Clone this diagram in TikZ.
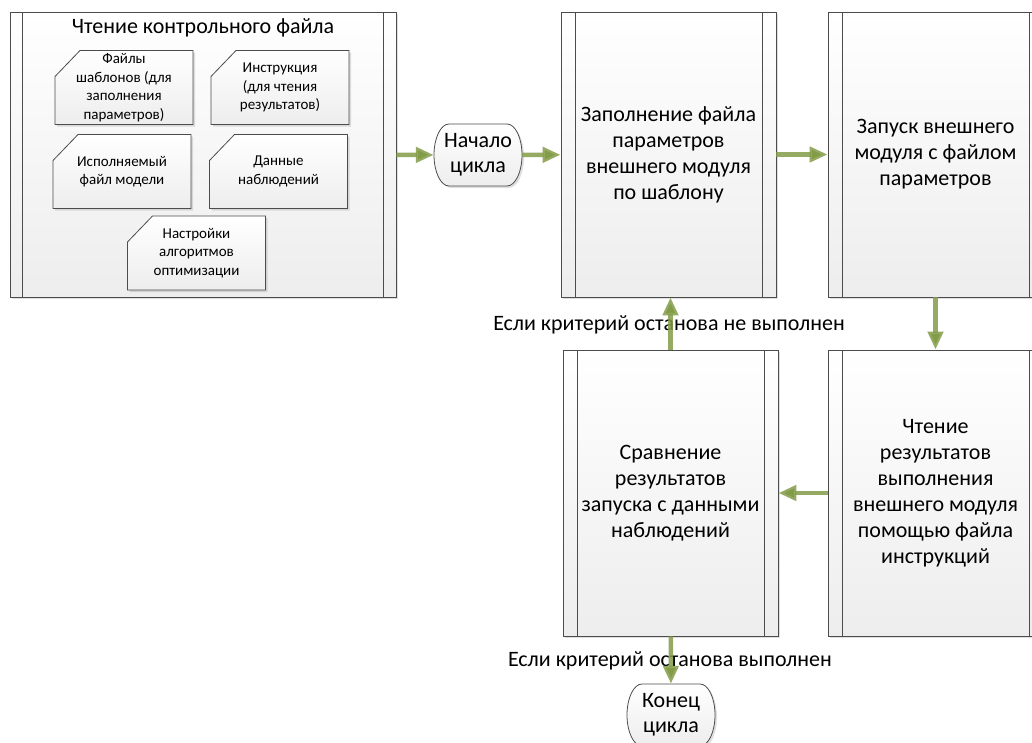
\documentclass[tikz,border=0pt]{standalone}
\usepackage{fontspec}
\setmainfont{Carlito}
\usetikzlibrary{arrows.meta,positioning,shadows}
\definecolor{flowgreen}{RGB}{131,156,72}

\begin{document}
\begin{tikzpicture}[x=1pt,y=-1pt,
  shadowed/.style={drop shadow={shadow xshift=2pt,shadow yshift=-2pt,opacity=.25}},
  sidebars/.style={path picture={\draw[black!70,line width=0.8pt]
      ([xshift=#1]path picture bounding box.north west) -- ([xshift=#1]path picture bounding box.south west)
      ([xshift=-#1]path picture bounding box.north east) -- ([xshift=-#1]path picture bounding box.south east);}},
  shade box/.style={draw=black!70,line width=0.8pt,top color=white,bottom color=black!7,shadowed},
  proc/.style={rectangle,shade box,minimum width=215pt,minimum height=285pt,align=center,
    sidebars=14pt,font=\fontsize{22}{26}\selectfont},
  term/.pic={\path[shade box] (-29,-31) -- (29,-31) arc[start angle=270,end angle=450,x radius=15,y radius=31]
      -- (-29,31) arc[start angle=90,end angle=270,x radius=15,y radius=31] -- cycle;
    \node[minimum width=88pt,minimum height=62pt,align=center,font=\fontsize{22}{25}\selectfont] (-txt) {#1};},
  card/.pic={\path[shade box] (-44,-37) -- (69,-37) -- (69,37) -- (-69,37) -- (-69,-11) -- cycle;
    \node[align=center,font=\fontsize{15}{18.5}\selectfont] (-txt) {#1};},
  flow/.style={draw=flowgreen,draw opacity=.85,line width=4.5pt,-{Triangle[length=18pt,width=15pt]}},
  lbl/.style={font=\fontsize{22}{26}\selectfont}]
  \useasboundingbox (0,0) rectangle (1032,742);

  % control file block
  \node[proc,minimum width=386pt,sidebars=12.5pt] (ctl) at (203,154.5) {};
  \node[font=\fontsize{22}{26}\selectfont] (ctltitle) at (203,28) {Чтение контрольного файла};
  \pic (tpl) at (124,87.5) {card={Файлы\\шаблонов (для\\заполнения\\параметров)}};
  \pic (ins) at (280,87.5) {card={Инструкция\\(для чтения\\результатов)}};
  \pic (exe) at (122,171.5) {card={Исполняемый\\файл модели}};
  \pic (obs) at (278.5,171.5) {card={Данные\\наблюдений}};
  \pic (opt) at (196.5,253) {card={Настройки\\алгоритмов\\оптимизации}};

  % loop
  \pic (start) at (478,155) {term={Начало\\цикла}};
  \node[proc] (fill) at (668.5,154.5) {Заполнение файла\\параметров\\внешнего модуля\\по шаблону};
  \node[proc] (run) at (935.5,154.5) {Запуск внешнего\\модуля с файлом\\параметров};
  \node[proc,minimum height=286pt] (read) at (935.5,493) {Чтение\\результатов\\выполнения\\внешнего модуля\\помощью файла\\инструкций};
  \node[proc,minimum height=286pt] (cmp) at (670.5,493) {Сравнение\\результатов\\запуска с данными\\наблюдений};
  \pic (stop) at (671,715) {term={Конец\\цикла}};

  \node[lbl] (notdone) at (669,325) {Если критерий останова не выполнен};
  \node[lbl] (done) at (670,661) {Если критерий останова выполнен};

     \draw[flow] (ctl) -- (start-txt);
     \draw[flow] (start-txt) -- (fill);
     \draw[flow] (fill) -- (run);
     \draw[flow] (run) -- (read);
     \draw[flow] (read) -- (cmp);
     \draw[flow] (cmp.north) -- (cmp.north |- fill.south);
     \draw[flow] (cmp) -- (stop-txt);
\end{tikzpicture}
\end{document}
